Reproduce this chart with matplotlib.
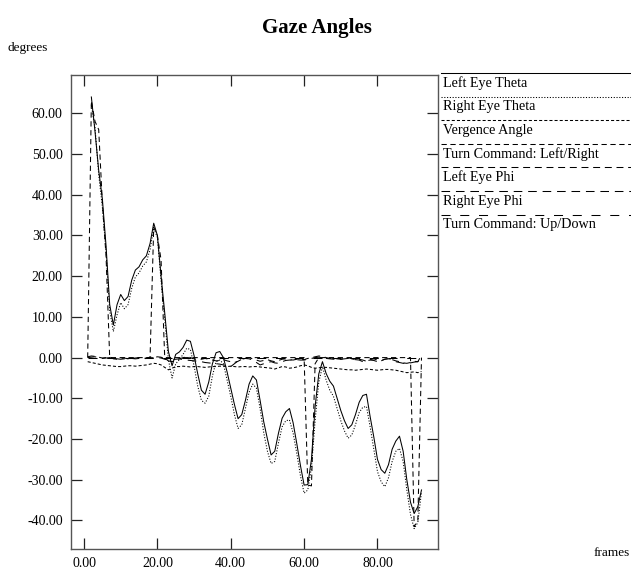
import numpy as np
import matplotlib
matplotlib.use("Agg")
import matplotlib.pyplot as plt

plt.rcParams['font.family'] = ['Liberation Serif', 'DejaVu Serif']
plt.rcParams['lines.scale_dashes'] = False

nan = np.nan
frames = np.arange(1, 93)

left_theta = [nan, 64.0, 55.5, 46.0, 39.0, 27.5, 13.0, 8.0, 13.0, 15.5,
              14.0, 15.0, 19.0, 21.5, 22.3, 24.0, 25.0, 28.0, 33.0, 30.0,
              20.0, 11.0, 1.5, -2.0, 0.8, 1.4, 2.5, 4.3, 4.0, 0.5,
              -4.0, -8.0, -9.0, -6.0, -1.5, 1.2, 1.5, 0.0, -3.5, -7.5,
              -11.5, -15.0, -14.0, -10.5, -6.5, -4.5, -5.5, -10.5, -15.8, -20.0,
              -23.9, -23.0, -18.6, -14.9, -13.3, -12.5, -16.0, -21.1, -26.5, -31.3,
              -31.2, -25.0, -12.0, -4.0, -1.0, -3.9, -5.8, -7.0, -10.0, -13.0,
              -15.5, -17.4, -16.5, -14.0, -11.0, -9.3, -9.0, -14.5, -19.5, -25.0,
              -27.5, -28.4, -26.3, -22.5, -20.5, -19.3, -23.0, -30.0, -35.5, -38.3,
              -36.6, -32.5]

right_theta = [nan, 62.0, 56.5, 45.0, 37.0, 26.0, 11.5, 6.4, 10.5, 13.5,
               12.0, 13.0, 17.0, 19.8, 20.8, 22.5, 23.5, 26.5, 31.8, 29.5,
               19.0, 9.5, -0.5, -5.0, -1.5, -0.5, 0.8, 2.3, 2.0, -2.0,
               -7.0, -10.5, -11.2, -9.5, -4.5, -1.0, -0.6, -1.5, -5.5, -9.5,
               -14.0, -17.4, -16.5, -12.5, -8.5, -6.5, -7.5, -12.5, -18.5, -23.0,
               -26.0, -25.5, -21.0, -17.0, -15.5, -15.3, -18.5, -23.5, -29.0, -33.3,
               -32.5, -27.0, -15.5, -6.0, -2.2, -5.5, -8.0, -9.5, -12.5, -15.5,
               -18.0, -19.8, -19.0, -16.5, -13.5, -12.2, -12.0, -17.0, -22.5, -28.0,
               -30.5, -31.7, -29.5, -25.5, -23.0, -22.3, -25.5, -32.5, -38.5, -42.0,
               -40.5, -33.0]

vergence = [-1.0, -1.2, -1.4, -1.6, -1.8, -1.9, -2.0, -2.1, -2.2, -2.2,
            -2.1, -2.0, -2.0, -2.1, -2.0, -1.9, -1.8, -1.6, -1.4, -1.5,
            -1.8, -2.4, -3.0, -2.6, -2.2, -2.2, -2.1, -2.2, -2.3, -2.2,
            -2.2, -2.3, -2.4, -2.3, -2.2, -2.2, -2.1, -2.1, -2.2, -2.1,
            -2.2, -2.3, -2.2, -2.2, -2.3, -2.2, -2.2, -2.3, -2.4, -2.5,
            -2.6, -2.8, -2.5, -2.2, -2.3, -2.6, -2.5, -2.3, -2.0, -1.8,
            -2.0, -2.4, -2.6, -2.5, -2.4, -2.4, -2.5, -2.6, -2.7, -2.8,
            -2.9, -3.0, -3.0, -3.1, -3.0, -2.9, -2.8, -2.9, -3.0, -3.1,
            -3.0, -2.9, -2.9, -3.0, -3.1, -3.3, -3.5, -3.7, -3.6, -3.5,
            -3.7, -3.4]

turn_lr = [0.0, 63.0, 58.0, 56.0, 38.0, 25.0, 0.0, 0.0, 0.0, 0.0,
           0.0, 0.0, 0.0, 0.0, 0.0, 0.0, 0.0, 0.0, 32.0, 30.0,
           24.0, 0.0, 0.0, 0.0, 0.0, 0.0, 0.0, 0.0, 0.0, 0.0,
           0.0, 0.0, 0.0, 0.0, 0.0, 0.0, 0.0, 0.0, 0.0, 0.0,
           0.0, 0.0, 0.0, 0.0, 0.0, 0.0, 0.0, 0.0, 0.0, 0.0,
           0.0, 0.0, 0.0, 0.0, 0.0, 0.0, 0.0, 0.0, 0.0, 0.0,
           -31.3, -31.5, -1.5, 0.0, 0.0, 0.0, 0.0, 0.0, 0.0, 0.0,
           0.0, 0.0, 0.0, 0.0, 0.0, 0.0, 0.0, 0.0, 0.0, 0.0,
           0.0, 0.0, 0.0, 0.0, 0.0, 0.0, 0.0, 0.0, 0.0, -41.5,
           -40.0, 0.0]

left_phi = [0.2, 0.4, 0.3, 0.1, -0.1, 0.0, 0.2, -0.3, -0.4, -0.2,
            -0.1, -0.3, -0.2, -0.1, 0.0, -0.2, -0.1, 0.1, 0.0, 0.2,
            0.1, -0.3, -0.8, -1.0, -0.6, -0.3, 0.0, 0.2, 0.0, -0.3,
            -0.5, -0.4, -0.2, -0.4, -0.6, -0.8, -0.7, -0.5, -0.8, -1.0,
            -1.2, -0.9, -0.4, -0.1, 0.0, -0.3, -0.6, -0.9, -0.7, -0.5,
            -0.8, -1.0, -0.7, -0.4, -0.3, -0.5, -0.6, -0.4, -0.3, -0.5,
            -0.2, 0.0, 0.2, 0.4, 0.3, 0.0, -0.2, -0.1, -0.3, -0.4,
            -0.2, 0.0, -0.3, -0.5, -0.4, -0.6, -0.9, -0.5, -0.3, -0.6,
            -0.8, -0.4, -0.2, -0.5, -0.8, -1.0, -1.3, -1.4, -1.2, -0.9,
            -1.0, 0.6]

right_phi = [0.0, 0.1, 0.2, 0.0, -0.2, -0.1, 0.0, -0.2, -0.3, -0.4,
             -0.3, -0.3, -0.2, -0.3, -0.2, -0.3, -0.2, -0.1, 0.0, 0.0,
             -0.1, -0.4, -0.6, -0.5, -0.4, -0.3, -0.5, -0.6, -0.7, -0.8,
             -0.9, -1.0, -1.2, -1.3, -1.4, -1.5, -1.6, -1.8, -2.0, -2.2,
             -1.5, -0.8, -0.4, -0.2, -0.3, -0.6, -1.2, -1.8, -1.5, -1.2,
             -1.0, -1.3, -1.4, -1.0, -0.7, -0.6, -0.6, -0.5, -0.6, -0.6,
             -0.4, -0.2, 0.0, 0.1, 0.0, -0.2, -0.3, -0.4, -0.3, -0.4,
             -0.3, -0.2, -0.4, -0.5, -0.6, -1.0, -0.8, -0.6, -0.7, -1.0,
             -0.7, -0.4, -0.3, -0.4, -1.0, -1.2, -1.4, -1.4, -1.3, -1.1,
             -1.0, -0.5]

turn_ud = [0.0] * 92

labels = ["Left Eye Theta", "Right Eye Theta", "Vergence Angle",
          "Turn Command: Left/Right", "Left Eye Phi", "Right Eye Phi",
          "Turn Command: Up/Down"]
series = [left_theta, right_theta, vergence, turn_lr, left_phi, right_phi, turn_ud]
styles = ['-', (0, (0.8, 1.2)), (0, (2.2, 1.5)), (0, (3.8, 2.6)),
          (0, (5.0, 3.4)), (0, (6.2, 4.2)), (0, (6.5, 7.0))]

fig = plt.figure(figsize=(6.31, 5.73), dpi=100)
ax = fig.add_axes([71 / 631, 1 - 549 / 573, 367 / 631, 474 / 573])

for vals, ls in zip(series, styles):
    ax.plot(frames, vals, color='black', linestyle=ls, linewidth=0.75)

ax.set_xlim(-3.55, 96.5)
ax.set_ylim(-47.0, 69.4)
ax.set_xticks(np.arange(0, 81, 20))
ax.set_yticks(np.arange(-40, 61, 10))
ax.xaxis.set_major_formatter(matplotlib.ticker.FormatStrFormatter('%.2f'))
ax.yaxis.set_major_formatter(matplotlib.ticker.FormatStrFormatter('%.2f'))
ax.tick_params(axis='both', direction='in', length=8, width=0.9, color='#222222',
               labelsize=10, top=True, right=True)
ax.tick_params(axis='x', pad=6)
ax.tick_params(axis='y', pad=6)
for s in ax.spines.values():
    s.set_color('#555555')
    s.set_linewidth(1.0)

# legend keys drawn in pixel space at the right of the plot
lg = fig.add_axes([0, 0, 1, 1])
lg.set_xlim(0, 631)
lg.set_ylim(573, 0)
lg.axis('off')
for i, (lab, ls) in enumerate(zip(labels, styles)):
    yy = 73 + i * 23.6
    lg.plot([441, 631], [yy, yy], color='black', linestyle=ls, linewidth=0.75)
    lg.text(443, yy + 10, lab, fontsize=10.2, va='center', ha='left')

lg.text(317, 28, "Gaze Angles", fontsize=15, fontweight='bold', ha='center', va='center')
lg.text(8, 48, "degrees", fontsize=9.5, ha='left', va='center')
lg.text(630, 553, "frames", fontsize=9.5, ha='right', va='center')

fig.savefig("out.png", dpi=100)
